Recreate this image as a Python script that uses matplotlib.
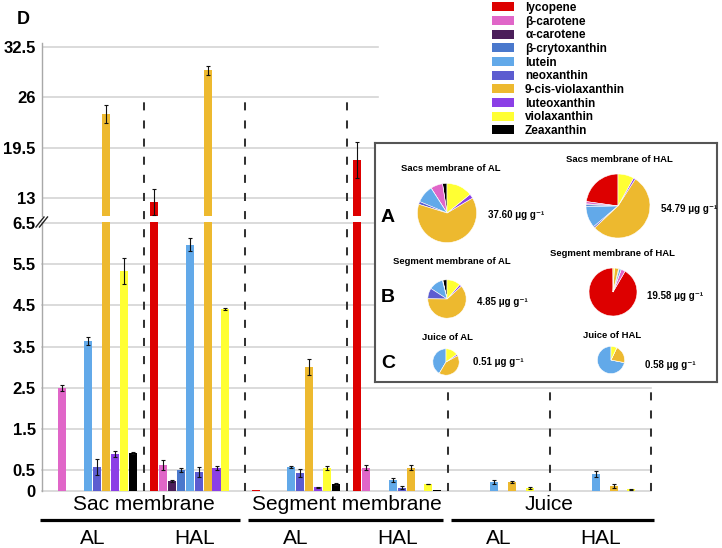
import matplotlib
matplotlib.use("Agg")
import matplotlib.pyplot as plt
import numpy as np
from matplotlib.patches import Patch
from matplotlib.lines import Line2D
from matplotlib.font_manager import FontProperties
import matplotlib.transforms as mtrans

# ---------------- data ----------------
compounds = ["lycopene", "β-carotene", "α-carotene", "β-crytoxanthin", "lutein",
             "neoxanthin", "9-cis-violaxanthin", "luteoxanthin", "violaxanthin", "Zeaxanthin"]
colors = ["#DD0000", "#E066C8", "#4B1E5A", "#4A78CC", "#62A9E9",
          "#5C5CD0", "#EDB92F", "#8B3FE6", "#FFFF33", "#000000"]

tissues = ["Sac membrane", "Segment membrane", "Juice"]
cultivars = ["AL", "HAL", "AL", "HAL", "AL", "HAL"]

sac_al = [0, 2.50, 0, 0, 3.64, 0.58, 23.85, 0.90, 5.34, 0.92]
sac_al_err = [0, 0.07, 0, 0, 0.10, 0.19, 1.1, 0.07, 0.31, 0.02]
sac_hal = [12.48, 0.63, 0.24, 0.50, 5.97, 0.46, 29.5, 0.56, 4.42, 0]
sac_hal_err = [1.65, 0.13, 0.03, 0.05, 0.16, 0.11, 0.6, 0.05, 0.03, 0]
seg_al = [0.02, 0, 0, 0, 0.58, 0.44, 3.01, 0.09, 0.56, 0.17]
seg_al_err = [0, 0, 0, 0, 0.02, 0.10, 0.19, 0.01, 0.04, 0.03]
seg_hal = [17.9, 0.56, 0, 0, 0.27, 0.08, 0.56, 0, 0.17, 0.02]
seg_hal_err = [2.3, 0.06, 0, 0, 0.04, 0.03, 0.06, 0, 0.01, 0]
juice_al = [0, 0, 0, 0, 0.22, 0, 0.22, 0.01, 0.08, 0]
juice_al_err = [0, 0, 0, 0, 0.04, 0, 0.03, 0, 0.02, 0]
juice_hal = [0, 0, 0, 0, 0.41, 0, 0.12, 0, 0.04, 0]
juice_hal_err = [0, 0, 0, 0, 0.07, 0, 0.05, 0, 0.01, 0]

groups = [sac_al, sac_hal, seg_al, seg_hal, juice_al, juice_hal]
group_errs = [sac_al_err, sac_hal_err, seg_al_err, seg_hal_err, juice_al_err, juice_hal_err]

lower_ticks = [0, 0.5, 1.5, 2.5, 3.5, 4.5, 5.5, 6.5]
upper_ticks = [13, 19.5, 26, 32.5]

pie_titles = ["Sacs membrane of AL", "Sacs membrane of HAL",
              "Segment membrane of AL", "Segment membrane of HAL",
              "Juice of AL", "Juice of HAL"]
pie_totals = ["37.60", "54.79", "4.85", "19.58", "0.51", "0.58"]
row_letters = ["A", "B", "C"]

# ---------------- figure ----------------
W, H = 722, 548
fig = plt.figure(figsize=(W / 100, H / 100), dpi=100)
FONT = "Liberation Sans"

def px_axes(x0, y0, x1, y1, **kw):
    return fig.add_axes([x0 / W, 1 - y1 / H, (x1 - x0) / W, (y1 - y0) / H], **kw)

def fy(py):
    return 1 - py / H

def fx(px):
    return px / W

ax_bot = px_axes(42, 222, 651, 491)
ax_top = px_axes(42, 43, 651, 216)

ax_bot.set_ylim(0, (491 - 222) / 41.23)
ax_top.set_ylim(13 - (216 - 198) / 7.744, 32.5 + (47 - 43) / 7.744)

spacing = 0.0877
bw = 0.08
grid_c = "#D4D4D4"

for ax in (ax_bot, ax_top):
    ax.set_xlim(0, 6)
    for s in ("top", "right", "bottom"):
        ax.spines[s].set_visible(False)
    ax.spines["left"].set_color("#A8A8A8")
    ax.spines["left"].set_linewidth(1.0)
    ax.set_xticks([])
    ax.tick_params(axis="y", length=0, pad=4.5)
    for g, (vals, errs) in enumerate(zip(groups, group_errs)):
        xs = g + 0.5 + (np.arange(len(vals)) - 4.5) * spacing
        ax.bar(xs, vals, width=bw, color=colors, zorder=3, linewidth=0)
        for x, v, e in zip(xs, vals, errs):
            if e > 0:
                ax.errorbar(x, v, yerr=e, fmt="none", ecolor="#111111",
                            elinewidth=0.8, capsize=1.6, capthick=0.8, zorder=4)

ax_bot.set_yticks(lower_ticks)
ax_bot.set_yticklabels([("%g" % t) for t in lower_ticks])
for t in lower_ticks:
    ax_bot.axhline(t, color=grid_c, lw=1.2, zorder=1, clip_on=False)
ax_top.set_yticks(upper_ticks)
ax_top.set_yticklabels([("%g" % t) for t in upper_ticks])
for t in upper_ticks:
    ax_top.axhline(t, xmin=0, xmax=0.552, color=grid_c, lw=1.2, zorder=1)

for ax in (ax_bot, ax_top):
    for lab in ax.get_yticklabels():
        lab.set_fontfamily(FONT)
        lab.set_fontweight("bold")
        lab.set_fontsize(12)

# break mark "//"
for dx in (0, 3.5):
    fig.add_artist(Line2D([fx(36 + dx), fx(44 + dx)], [fy(227), fy(217)],
                          color="#222222", lw=1.0, zorder=6))

# panel letter
fig.text(fx(23), fy(19), "D", fontfamily=FONT, fontweight="bold", fontsize=13,
         ha="center", va="center")

# dashed separators
blend = mtrans.blended_transform_factory(ax_bot.transData, fig.transFigure)
for xsep, ytop in [(1, 98), (2, 98), (3, 98), (4, 390), (5, 390), (6, 390)]:
    fig.add_artist(Line2D([xsep, xsep], [fy(491), fy(ytop)], transform=blend,
                          color="#333333", lw=1.45, dashes=(4, 5), zorder=2.5))

# group lines and labels
for i, name in enumerate(tissues):
    x0 = 2 * i + 0.03 if i else -0.02
    x1 = 2 * i + 1.95 + (0.08 if i == 2 else 0)
    fig.add_artist(Line2D([x0, x1], [fy(520), fy(520)], transform=blend,
                          color="black", lw=2.3, solid_capstyle="butt", zorder=3))
    fig.text(2 * i + 1, fy(505), name, transform=blend, fontfamily=FONT,
             fontsize=15, ha="center", va="center")
for g, name in enumerate(cultivars):
    fig.text(g + 0.5, fy(538), name, transform=blend, fontfamily=FONT,
             fontsize=15, ha="center", va="center")

# legend
handles = [Patch(facecolor=c, edgecolor="none") for c in colors]
fig.legend(handles, compounds, loc="upper left", bbox_to_anchor=(fx(492), fy(2)),
           frameon=False, borderpad=0, borderaxespad=0, handlelength=1.9,
           handleheight=0.8, handletextpad=0.9, labelspacing=0.14,
           prop=FontProperties(family=FONT, weight="bold", size=8.5))

# inset box
box = px_axes(375, 143, 717, 382, zorder=5)
box.set_xticks([]); box.set_yticks([])
for s in box.spines.values():
    s.set_color("#555555"); s.set_linewidth(1.5)

pie_geom = [(447, 213, 37), (618, 206, 40), (447, 299, 24),
            (613, 292, 30), (446, 362, 16.5), (611, 360, 17)]
title_pos = [(451, 169), (619, 160), (452, 261), (612, 253), (447, 337), (612, 336)]
total_pos = [(516, 215), (689, 209), (502, 302), (675, 296), (498, 362), (670, 365)]
pie_order = [9, 0, 1, 2, 3, 4, 5, 6, 7, 8]

for k, vals in enumerate(groups):
    cx, cy, r = pie_geom[k]
    pa = px_axes(cx - r, cy - r, cx + r, cy + r, zorder=6)
    pa.pie([vals[j] for j in pie_order], colors=[colors[j] for j in pie_order],
           startangle=90, counterclock=True,
           wedgeprops=dict(edgecolor="white", linewidth=0.4))
    pa.set_aspect("equal")
    pa.axis("off")
    tx, ty = title_pos[k]
    fig.text(fx(tx), fy(ty), pie_titles[k], fontfamily=FONT, fontweight="bold",
             fontsize=6.8, ha="center", va="center", zorder=7)
    gx, gy = total_pos[k]
    fig.text(fx(gx), fy(gy), pie_totals[k] + " μg g⁻¹", fontfamily=[FONT, "DejaVu Sans"],
             fontweight="bold", fontsize=7, ha="center", va="center", zorder=7)

for letter, ly in zip(row_letters, [217, 298, 363]):
    fig.text(fx(388), fy(ly), letter, fontfamily=FONT, fontweight="bold",
             fontsize=14, ha="center", va="center", zorder=7)

fig.savefig("out.png", dpi=100)
